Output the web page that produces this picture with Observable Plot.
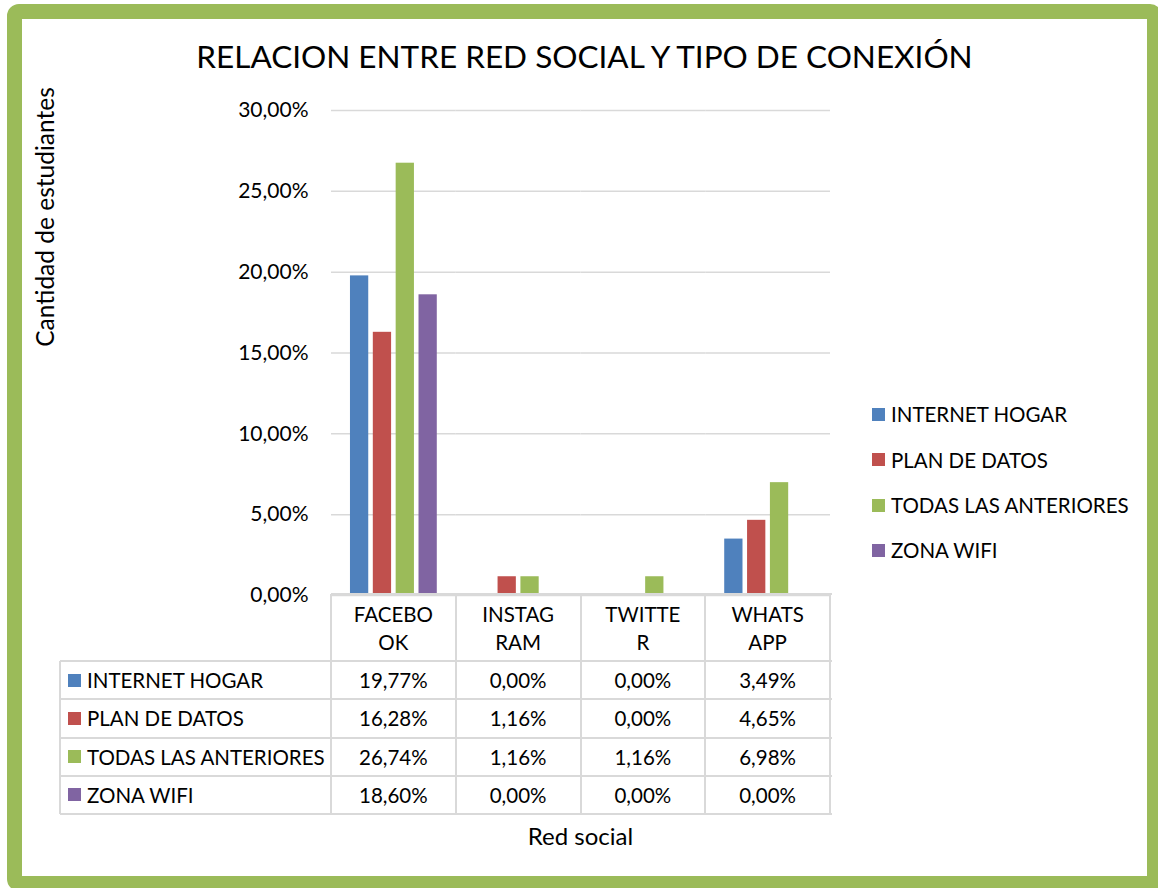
<!DOCTYPE html>
<html><head><meta charset="utf-8">
<script src="https://cdn.jsdelivr.net/npm/d3@7"></script>
<script src="https://cdn.jsdelivr.net/npm/@observablehq/plot@0.6"></script>
<style>
body{margin:0;background:#fff;}
#root{position:relative;width:1158px;height:888px;overflow:hidden;font-family:Lato,"Open Sans",sans-serif;color:#000;background:#fff;}
#frame{position:absolute;left:7px;top:4px;width:1155px;height:887px;box-sizing:border-box;border:15px solid #9BBB59;border-radius:12px;}
#title{position:absolute;left:22px;width:1125px;top:36px;text-align:center;font-size:31.5px;line-height:40px;white-space:nowrap;}
#ylabel{position:absolute;left:44px;top:217px;transform:translate(-50%,-50%) rotate(-90deg);font-size:24.5px;white-space:nowrap;}
#xlabel{position:absolute;left:331px;width:499px;top:821px;text-align:center;font-size:24px;line-height:30px;}
#chart{position:absolute;left:22px;top:90px;}
.cell{position:absolute;box-sizing:border-box;font-size:20.5px;display:flex;align-items:center;justify-content:center;text-align:center;line-height:28px;white-space:nowrap;}
.key{display:inline-block;width:13px;height:13px;margin-right:6px;flex:none;}
.leg{position:absolute;left:872px;font-size:20.5px;display:flex;align-items:center;white-space:nowrap;height:28px;}
.hline{position:absolute;height:2px;background:#d9d9d9;}
.vline{position:absolute;width:2px;background:#d9d9d9;}
</style></head>
<body><div id="root">
<div id="frame"></div>
<div id="title">RELACION ENTRE RED SOCIAL Y TIPO DE CONEXIÓN</div>
<div id="ylabel">Cantidad de estudiantes</div>
<div id="chart"></div>
<div id="table"></div>
<div id="legend"></div>
<div id="xlabel">Red social</div>
</div>
<script>
const categories = ["FACEBOOK", "INSTAGRAM", "TWITTER", "WHATSAPP"];
const categoryLabels = [["FACEBO", "OK"], ["INSTAG", "RAM"], ["TWITTE", "R"], ["WHATS", "APP"]];
const series = ["INTERNET HOGAR", "PLAN DE DATOS", "TODAS LAS ANTERIORES", "ZONA WIFI"];
const colors = ["#4F81BD", "#C0504D", "#9BBB59", "#8064A2"];
const internetHogar = [19.77, 0.00, 0.00, 3.49];
const planDeDatos = [16.28, 1.16, 0.00, 4.65];
const todasLasAnteriores = [26.74, 1.16, 1.16, 6.98];
const zonaWifi = [18.60, 0.00, 0.00, 0.00];
const yTicks = [0, 5, 10, 15, 20, 25, 30];

const seriesValues = [internetHogar, planDeDatos, todasLasAnteriores, zonaWifi];
const fmt = d => d.toFixed(2).replace(".", ",") + "%";
const data = [];
series.forEach((s, i) => categories.forEach((c, j) => data.push({series: s, cat: c, value: seriesValues[i][j]})));

const chart = Plot.plot({
  width: 820, height: 520,
  marginLeft: 309, marginRight: 12, marginTop: 20, marginBottom: 15,
  style: {fontFamily: 'Lato, "Open Sans", sans-serif', fontSize: "21px", color: "#000", background: "transparent", overflow: "visible"},
  fx: {domain: categories, padding: 0, axis: null, label: null, round: false},
  x: {domain: series, paddingInner: 0.2, paddingOuter: 0.83, axis: null, label: null, round: false},
  y: {domain: [0, 30], label: null, axis: null},
  color: {domain: series, range: colors},
  marks: [
    Plot.gridY(yTicks, {stroke: "#d9d9d9", strokeOpacity: 1, strokeWidth: 1.5}),
    Plot.axisY(yTicks, {tickSize: 0, tickPadding: 23, tickFormat: fmt, fontSize: 21, label: null, fill: "#000"}),
    Plot.barY(data, {fx: "cat", x: "series", y: "value", fill: "series"})
  ]
});
document.getElementById("chart").appendChild(chart);

// data table
const table = document.getElementById("table");
const colX = [331, 455.75, 580.5, 705.25, 830];
const headTop = 594, headBot = 661, rowH = 38.25;
function add(cls, style, html) {
  const d = document.createElement("div");
  d.className = cls; Object.assign(d.style, style); if (html != null) d.innerHTML = html;
  table.appendChild(d);
}
categoryLabels.forEach((lab, j) => {
  add("cell", {left: colX[j] + "px", width: (colX[j+1] - colX[j]) + "px", top: headTop + "px", height: (headBot - headTop) + "px"}, lab.join("<br>"));
});
series.forEach((s, i) => {
  const top = headBot + i * rowH;
  add("cell", {left: "60px", width: (331 - 60) + "px", top: top + "px", height: rowH + "px", justifyContent: "flex-start", paddingLeft: "8px"},
      `<span class="key" style="background:${colors[i]}"></span>${s}`);
  categories.forEach((c, j) => {
    add("cell", {left: colX[j] + "px", width: (colX[j+1] - colX[j]) + "px", top: top + "px", height: rowH + "px"}, fmt(seriesValues[i][j]));
  });
});
add("hline", {left: "331px", width: (830 - 331 + 2) + "px", top: (headTop - 1) + "px"});
for (let i = 0; i <= series.length; i++) {
  add("hline", {left: "60px", width: (830 - 60 + 2) + "px", top: (headBot + i * rowH - 1) + "px"});
}
colX.forEach(x => add("vline", {left: (x - 1) + "px", top: headTop + "px", height: (headBot + 4 * rowH - headTop) + "px"}));
add("vline", {left: "59px", top: headBot + "px", height: (4 * rowH) + "px"});

// legend
const legend = document.getElementById("legend");
const legY = [414, 459.5, 505, 550];
series.forEach((s, i) => {
  const d = document.createElement("div");
  d.className = "leg"; d.style.top = (legY[i] - 14) + "px";
  d.innerHTML = `<span class="key" style="background:${colors[i]}"></span>${s}`;
  legend.appendChild(d);
});
</script>
</body></html>
